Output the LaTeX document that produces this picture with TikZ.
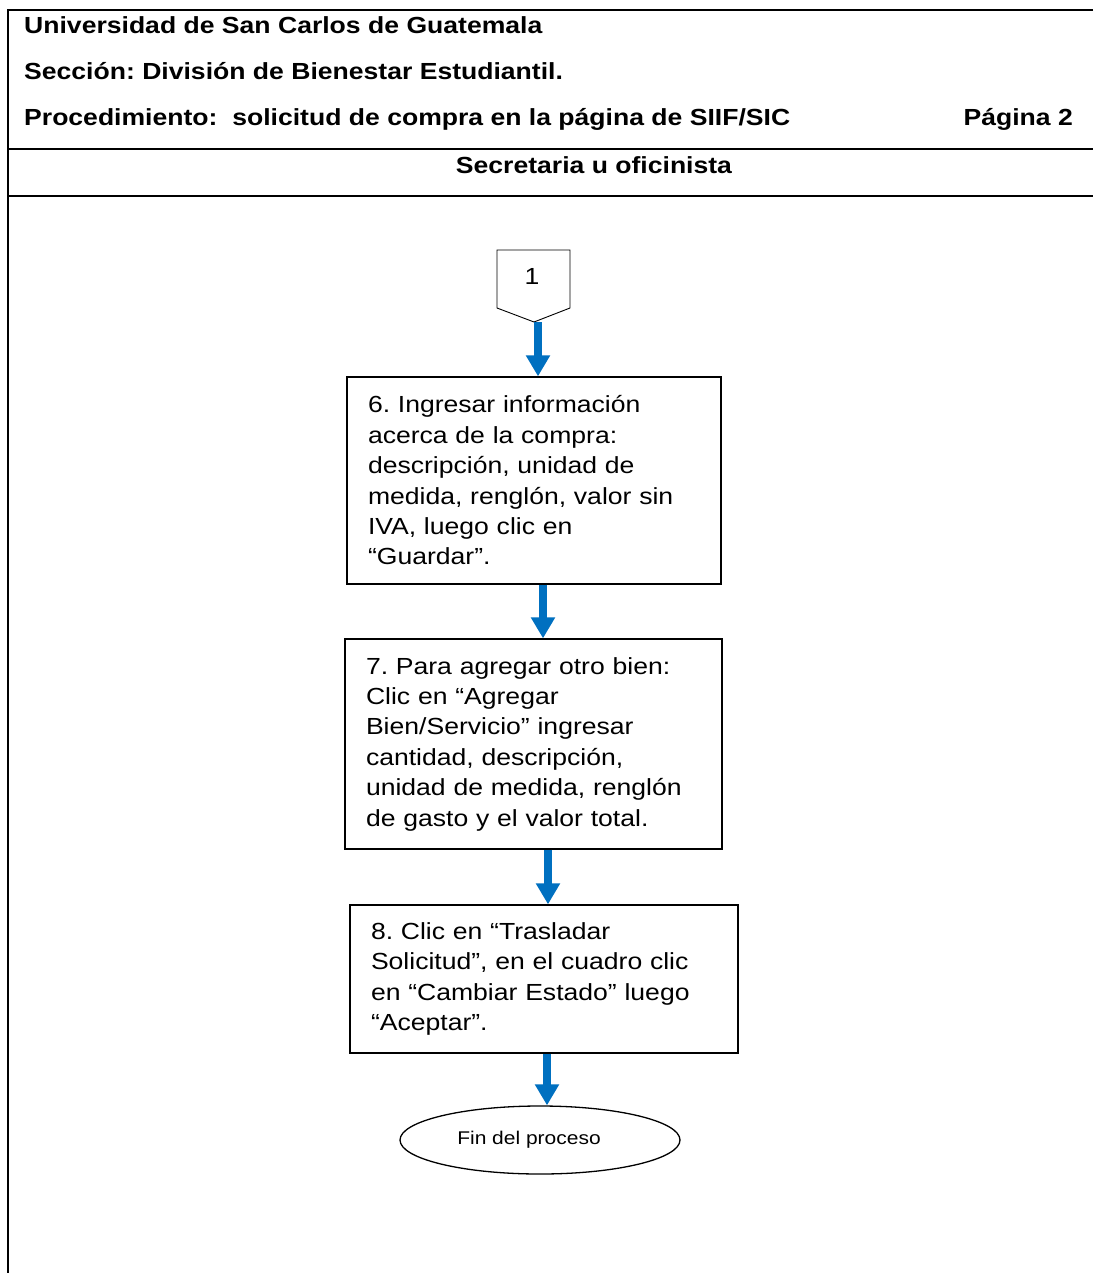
\documentclass[tikz,border=0pt]{standalone}
\usepackage{fontspec}
\setmainfont{Liberation Sans}[FakeStretch=1.14]
\usetikzlibrary{arrows.meta,shapes.geometric}
\definecolor{flowblue}{RGB}{0,112,192}
\frenchspacing

\begin{document}
\begin{tikzpicture}[x=1pt,y=-1pt,
  frame/.style={line width=2.2pt},
  hdr/.style={font=\fontsize{23.3pt}{28pt}\selectfont\bfseries, inner sep=0pt},
  stepbox/.style={draw, line width=1.3pt, rectangle, align=left,
    inner xsep=21pt, inner ysep=0pt,
    font=\fontsize{23.3pt}{30.4pt}\selectfont},
  flow/.style={draw=flowblue, line width=8pt, -{Triangle[width=23pt,length=21pt]}},
]
\useasboundingbox (0,0) rectangle (1093,1273);
\fill[white] (0,0) rectangle (1093,1273);

% form frame
\draw[frame] (1093,10) -- (8,10) -- (8,1273);
\draw[frame] (8,149) -- (1093,149);
\draw[frame] (8,196) -- (1093,196);

% header
\node[hdr, anchor=base west] (univ) at (24,33.5) {Universidad de San Carlos de Guatemala};
\node[hdr, anchor=base west] (secc) at (24,79.5) {Sección: División de Bienestar Estudiantil.};
\node[hdr, anchor=base west] (proc) at (24,125.5) {Procedimiento:\ \ solicitud de compra en la página de SIIF/SIC};
\node[hdr, anchor=base east] (pag) at (1073,125.5) {Página 2};
\node[hdr, anchor=base] (resp) at (594,173.5) {Secretaria u oficinista};

% off-page connector
\draw[line width=0.9pt] (497,250) -- (570,250) -- (570,308) -- (534,322) -- (497,308) -- cycle;
\node[font=\fontsize{23.3pt}{28pt}\selectfont, inner sep=0pt] (c1) at (532,276.5) {1};
\coordinate (c1tip) at (534,322);

% steps
\node[stepbox, text width=332pt, minimum height=207pt] (b6) at (534,480.5)
  {6. Ingresar información\\acerca de la compra:\\descripción, unidad de\\medida, renglón, valor sin\\IVA, luego clic en\\“Guardar”.};
\node[stepbox, text width=335pt, minimum height=210pt] (b7) at (533.5,744)
  {7. Para agregar otro bien:\\Clic en “Agregar\\Bien/Servicio” ingresar\\cantidad, descripción,\\unidad de medida, renglón\\de gasto y el valor total.};
\node[stepbox, text width=346pt, minimum height=148pt] (b8) at (544,979)
  {8. Clic en “Trasladar\\Solicitud”, en el cuadro clic\\en “Cambiar Estado” luego\\“Aceptar”.};

% terminator
\node[draw, ellipse, line width=1.3pt, minimum width=280pt, minimum height=68pt, inner sep=0pt] (fin) at (540,1140) {};
\node[font=\fontsize{18.4pt}{22pt}\selectfont, inner sep=0pt] (finlbl) at (529,1140) {Fin del proceso};

% flow arrows
\draw[flow] ([xshift=4pt]c1tip) -- ([xshift=4pt]c1tip |- b6.north);
\draw[flow] ([xshift=9pt]b6.south) -- ([xshift=9pt]b6.south |- b7.north);
\draw[flow] ([xshift=14.5pt]b7.south) -- ([xshift=14.5pt]b7.south |- b8.north);
\draw[flow] ([xshift=3pt]b8.south) -- ([xshift=3pt]b8.south |- fin.north);
\end{tikzpicture}
\end{document}
